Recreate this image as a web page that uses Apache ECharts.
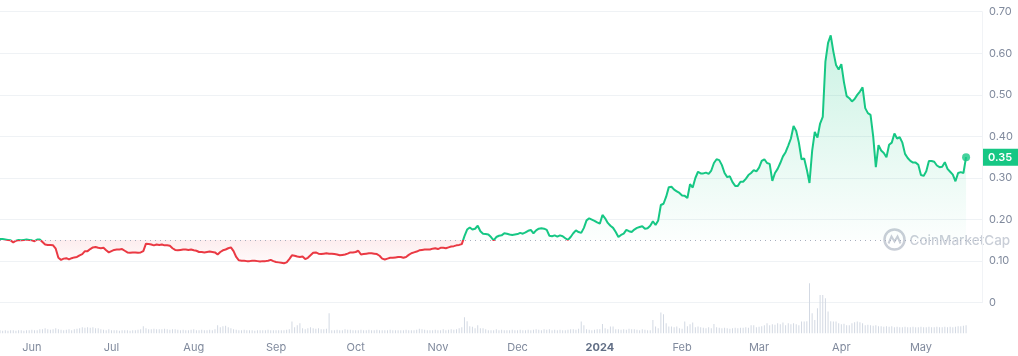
<!DOCTYPE html>
<html><head><meta charset="utf-8">
<script src="https://cdn.jsdelivr.net/npm/echarts@6/dist/echarts.min.js"></script>
<style>html,body{margin:0;padding:0;background:#fff}#c{width:1018px;height:356px}</style>
</head><body><div id="c"></div>
<script>
const startDate = '2023-05-20';
const axisEndDate = '2024-05-24';
const referencePrice = 0.151;
const prices = [
0.153,0.153,0.152,0.151,0.150,0.145,0.149,0.151,0.150,0.151,
0.152,0.151,0.150,0.148,0.152,0.152,0.146,0.140,0.139,0.139,
0.138,0.130,0.108,0.103,0.106,0.107,0.104,0.107,0.109,0.110,
0.114,0.117,0.124,0.124,0.129,0.133,0.134,0.132,0.131,0.132,
0.126,0.121,0.124,0.127,0.128,0.128,0.129,0.125,0.121,0.120,
0.121,0.121,0.120,0.121,0.124,0.142,0.141,0.140,0.138,0.140,
0.139,0.140,0.138,0.138,0.137,0.131,0.127,0.126,0.127,0.128,
0.128,0.127,0.128,0.126,0.125,0.122,0.122,0.121,0.122,0.123,
0.122,0.121,0.116,0.122,0.126,0.128,0.131,0.133,0.124,0.110,
0.102,0.101,0.101,0.100,0.100,0.101,0.101,0.100,0.099,0.100,
0.100,0.101,0.103,0.100,0.098,0.097,0.096,0.095,0.097,0.105,
0.114,0.113,0.111,0.110,0.111,0.105,0.108,0.114,0.120,0.121,
0.118,0.117,0.118,0.119,0.118,0.118,0.117,0.116,0.114,0.115,
0.116,0.118,0.121,0.121,0.122,0.125,0.116,0.117,0.118,0.119,
0.119,0.118,0.117,0.113,0.106,0.104,0.106,0.108,0.108,0.109,
0.110,0.110,0.108,0.110,0.115,0.119,0.121,0.123,0.126,0.127,
0.128,0.128,0.128,0.130,0.131,0.129,0.132,0.132,0.131,0.133,
0.135,0.136,0.138,0.139,0.141,0.160,0.176,0.181,0.176,0.178,
0.185,0.172,0.166,0.165,0.164,0.158,0.150,0.158,0.161,0.162,
0.167,0.166,0.164,0.163,0.164,0.165,0.168,0.166,0.169,0.173,
0.175,0.167,0.174,0.178,0.179,0.178,0.175,0.161,0.160,0.162,
0.159,0.162,0.160,0.155,0.151,0.158,0.167,0.174,0.170,0.168,
0.180,0.198,0.203,0.200,0.197,0.193,0.190,0.211,0.203,0.192,
0.185,0.180,0.170,0.158,0.163,0.166,0.175,0.172,0.170,0.176,
0.180,0.182,0.184,0.178,0.179,0.185,0.196,0.187,0.198,0.235,
0.238,0.255,0.278,0.279,0.272,0.268,0.264,0.258,0.257,0.252,
0.285,0.277,0.300,0.315,0.311,0.311,0.313,0.310,0.318,0.336,
0.345,0.343,0.331,0.312,0.302,0.304,0.290,0.281,0.281,0.291,
0.291,0.298,0.307,0.312,0.319,0.316,0.325,0.341,0.345,0.336,
0.334,0.293,0.312,0.322,0.336,0.352,0.362,0.378,0.395,0.425,
0.413,0.385,0.345,0.347,0.320,0.288,0.365,0.411,0.397,0.431,
0.447,0.580,0.625,0.643,0.604,0.572,0.561,0.574,0.530,0.497,
0.492,0.484,0.490,0.500,0.508,0.518,0.468,0.456,0.452,0.400,
0.326,0.379,0.366,0.360,0.350,0.380,0.385,0.407,0.395,0.398,
0.385,0.358,0.348,0.341,0.337,0.337,0.332,0.307,0.305,0.316,
0.341,0.341,0.339,0.330,0.326,0.327,0.338,0.322,0.315,0.308,
0.292,0.312,0.314,0.312,0.350
];
const volumes = [
3,2.5,3,2.5,3,3,2.5,3,3,2.5,
3,3,3.5,3,3,4,4,5,4,3.5,
4,5,4,3.5,3,3.5,4,3,4,4.5,
5,6,5.5,6,5.5,6,5,5,4,3.5,
3,4,3,3,3,2.5,3,3,3,2.5,
3,3,3.5,4,7,5,4,4,4.5,4,
4,4,4.5,4,3.5,4,4,3.5,3,3.5,
3,3,3.5,4,3,3,3.5,3,3,3.5,
3,4,8,6,7,7.5,6,5,4,3.5,
3,3,3.5,3,3,3,2.5,3,3,3,
3,3.5,3,3,3,3,3,3,3.5,4,
11.7,6,8,10,5,4,5,6,5,4.5,
5,4,4,4.5,20,3,3,3.5,3,3,
4,3.5,3.5,3,3,3,3.5,3,3,3.5,
3,3,3.5,3,3,3,3,3.5,3,3,
3,3,3,3.5,3,3,3,3.5,4.5,4,
3.5,3,3,3,3.5,3,3,4,3,3.5,
4,3.5,4,5,6,16,12,7,6.5,5,
8,5,5,4,3,3,3,4,3,3.5,
3,3,3,3.5,3,3,3.5,3,3,3.5,
3,3.5,4,3.5,3,4,3.5,4,3,3.5,
3,3.5,3,3,3.5,4,4,3.5,4.5,11.7,
8,4,3.5,3,3.5,4,4,9.3,5,4,
6.7,6.7,4,4,3.5,4,3.5,4.5,4,4,
3.5,3,4,3.5,3,3,13.3,6.7,5,20.7,
19,10,6.7,6.7,6,6.7,5,4.5,11.7,7,
9,10.7,6,6.7,6,5.5,5,6,5,9.3,
6,5.5,5,5.5,5,4.5,5,5.5,5,5.5,
5.5,6,5.5,8,8,6,6.5,7,8,10,
8,9,8.5,10,9,10.7,8,10,9,10,
9,8,11.7,11.7,12,50,20,13.3,25,38.3,
38.3,35,21.7,12,11.7,11.7,10,9,9.5,8,
8,10,11,11.7,11,10,8,8.5,8,7.5,
8,7,7,6.5,7,6.5,7,6,6.5,6,
6,6.5,6,6,6.5,6,6,6.5,6,6,
6.5,6,6,6.5,6,6,6.5,6,6.5,6,
6.5,7,7,7.5,8
];
const monthTicks = ['2023-06-01','2023-07-01','2023-08-01','2023-09-01','2023-10-01','2023-11-01','2023-12-01','2024-01-01','2024-02-01','2024-03-01','2024-04-01','2024-05-01'];
const monthNames = ['Jan','Feb','Mar','Apr','May','Jun','Jul','Aug','Sep','Oct','Nov','Dec'];

const DAY = 86400000;
const t0 = Date.parse(startDate + 'T00:00:00Z');
const tEnd = Date.parse(axisEndDate + 'T00:00:00Z');
const dates = prices.map((_, i) => t0 + i * DAY);
const priceData = prices.map((v, i) => [dates[i], v]);
const greenArea = prices.map((v, i) => [dates[i], Math.max(v, referencePrice)]);
const redArea = prices.map((v, i) => [dates[i], Math.min(v, referencePrice)]);
const volumeData = volumes.map((v, i) => [dates[i], v]);
const tickTimes = monthTicks.map(s => Date.parse(s + 'T00:00:00Z'));
const lastIdx = prices.length - 1;

const GREEN = '#16c784', RED = '#ea3943', LABEL = '#808a9d', FONT = 'Inter';

const chart = echarts.init(document.getElementById('c'), null, {renderer: 'canvas'});
chart.setOption({
  animation: false,
  backgroundColor: '#fff',
  grid: [
    {left: 0, right: 36, top: 11.7, bottom: 53.3},
    {left: 0, right: 36, top: 283.3, height: 50}
  ],
  xAxis: [
    {type: 'value', gridIndex: 0, min: t0, max: tEnd, show: false},
    {type: 'value', gridIndex: 1, min: t0, max: tEnd,
     axisLine: {show: false}, axisTick: {show: false}, splitLine: {show: false},
     axisLabel: {
       customValues: tickTimes, margin: 9, color: LABEL, fontSize: 11, fontFamily: FONT,
       formatter: function (v) {
         const d = new Date(v);
         return d.getUTCMonth() === 0 ? '{y|' + d.getUTCFullYear() + '}' : monthNames[d.getUTCMonth()];
       },
       rich: {y: {fontWeight: 'bold', color: '#616e85', fontSize: 11, fontFamily: FONT}}
     }}
  ],
  yAxis: [
    {type: 'value', gridIndex: 0, position: 'right', min: 0, max: 0.7, interval: 0.1,
     axisLine: {show: true, lineStyle: {color: '#f1f3f6'}}, axisTick: {show: false},
     splitLine: {lineStyle: {color: '#eff2f5', width: 1}},
     axisLabel: {margin: 7, color: LABEL, fontSize: 11, fontFamily: FONT,
       formatter: v => v === 0 ? '0' : v.toFixed(2)}},
    {type: 'value', gridIndex: 1, min: 0, max: 50, show: false}
  ],
  visualMap: {
    type: 'piecewise', show: false, seriesIndex: 2, dimension: 1,
    pieces: [{min: 0, max: referencePrice, color: RED}, {min: referencePrice, max: 1, color: GREEN}]
  },
  graphic: [{
    type: 'group', left: 882, top: 227, z: 1, silent: true,
    children: [
      {type: 'circle', shape: {cx: 11, cy: 11, r: 10}, style: {fill: 'none', stroke: '#c9ced7', lineWidth: 2.5}},
      {type: 'polyline', shape: {points: [[5, 15], [8, 8], [11, 13], [14, 8], [17, 15]]}, style: {stroke: '#c9ced7', fill: 'none', lineWidth: 2}},
      {type: 'text', x: 26, y: 12, style: {text: 'CoinMarketCap', font: '500 13.5px Inter', fill: '#c9ced7', verticalAlign: 'middle'}}
    ]
  }],
  series: [
    {type: 'line', xAxisIndex: 0, yAxisIndex: 0, data: redArea, symbol: 'none', silent: true,
     lineStyle: {width: 0}, z: 1,
     areaStyle: {origin: referencePrice, color: new echarts.graphic.LinearGradient(0, 0, 0, 1, [
       {offset: 0, color: 'rgba(234,57,67,0.13)'}, {offset: 1, color: 'rgba(234,57,67,0.03)'}])}},
    {type: 'line', xAxisIndex: 0, yAxisIndex: 0, data: greenArea, symbol: 'none', silent: true,
     lineStyle: {width: 0}, z: 1,
     areaStyle: {origin: referencePrice, color: new echarts.graphic.LinearGradient(0, 0, 0, 1, [
       {offset: 0, color: 'rgba(22,199,132,0.32)'}, {offset: 1, color: 'rgba(22,199,132,0.02)'}])}},
    {type: 'line', xAxisIndex: 0, yAxisIndex: 0, data: priceData, symbol: 'none', z: 3,
     lineStyle: {width: 2}},
    {type: 'scatter', xAxisIndex: 0, yAxisIndex: 0, data: [[dates[lastIdx], prices[lastIdx]]],
     symbolSize: 8, itemStyle: {color: GREEN}, z: 4,
     markLine: {
       silent: true, symbol: ['none', 'none'], animation: false,
       data: [
         {yAxis: referencePrice, lineStyle: {color: '#a6adbd', type: [1, 4], width: 1}, label: {show: false}},
         {yAxis: prices[lastIdx], lineStyle: {color: 'rgba(0,0,0,0)', width: 0},
          label: {show: true, position: 'end', distance: 1, formatter: p => p.value.toFixed(2),
            color: '#fff', backgroundColor: GREEN, padding: [3, 6, 3, 5], fontSize: 11, fontWeight: 600, fontFamily: FONT}}
       ]
     }},
    {type: 'bar', xAxisIndex: 1, yAxisIndex: 1, data: volumeData, barWidth: 1,
     itemStyle: {color: '#d3d9e3'}}
  ]
});
</script></body></html>
